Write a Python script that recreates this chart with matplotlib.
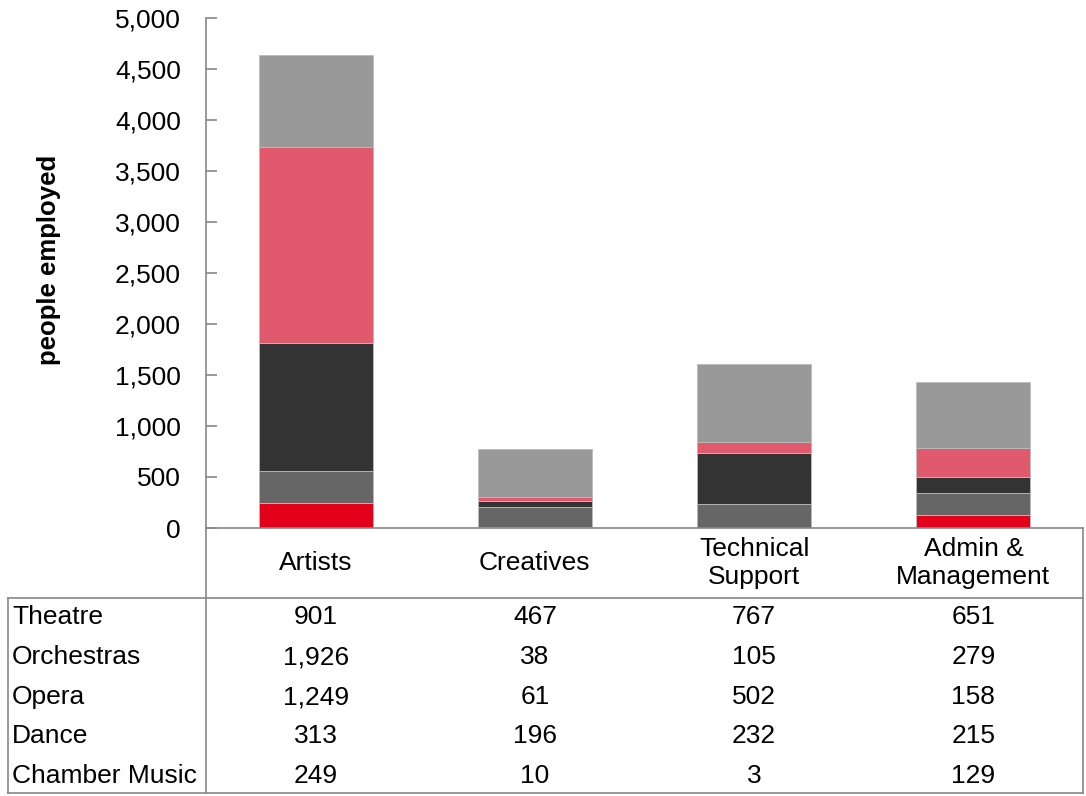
import matplotlib
matplotlib.use("Agg")
import matplotlib.pyplot as plt
import matplotlib.transforms as mtransforms
from matplotlib.lines import Line2D
import numpy as np

plt.rcParams['font.family'] = ['Liberation Sans', 'DejaVu Sans']

categories = ["Artists", "Creatives", "Technical\nSupport", "Admin &\nManagement"]
series_names = ["Theatre", "Orchestras", "Opera", "Dance", "Chamber Music"]
theatre = [901, 467, 767, 651]
orchestras = [1926, 38, 105, 279]
opera = [1249, 61, 502, 158]
dance = [313, 196, 232, 215]
chamber = [249, 10, 3, 129]
yticks = [0, 500, 1000, 1500, 2000, 2500, 3000, 3500, 4000, 4500, 5000]

series = [theatre, orchestras, opera, dance, chamber]
colors = {"Chamber Music": "#E2001A", "Dance": "#666666", "Opera": "#333333",
          "Orchestras": "#E0596D", "Theatre": "#999999"}

FS = 19
W, H = 1086, 796
fig = plt.figure(figsize=(W / 100, H / 100), dpi=100)
ax = fig.add_axes([206 / W, 1 - 528 / H, (1083 - 206) / W, (528 - 18) / H])

x = np.arange(len(categories))
bottom = np.zeros(len(categories))
# stack from bottom: Chamber Music, Dance, Opera, Orchestras, Theatre
for name, vals in reversed(list(zip(series_names, series))):
    ax.bar(x, vals, width=0.52, bottom=bottom, color=colors[name],
           edgecolor="#bbbbbb", linewidth=0.6, zorder=2)
    bottom += np.array(vals)

ax.set_xlim(-0.5, 3.5)
ax.set_ylim(0, 5000)
ax.set_yticks(yticks)
ax.set_yticklabels([f"{t:,}" for t in yticks], fontsize=FS)
ax.tick_params(axis='y', direction='in', length=8, width=1.2, color='#888888', pad=18)
ax.tick_params(axis='x', length=0, labelbottom=False)
for s in ["top", "right"]:
    ax.spines[s].set_visible(False)
ax.spines["left"].set_color("#888888")
ax.spines["left"].set_linewidth(1.2)
ax.spines["bottom"].set_color("#888888")
ax.spines["bottom"].set_linewidth(1.2)
ax.set_ylabel("people employed", fontsize=FS - 0.5, fontweight="bold")
ax.yaxis.set_label_coords(-0.165, 0.525)

# data table
trans = mtransforms.blended_transform_factory(ax.transData, fig.transFigure)
def fy(py):
    return 1 - py / H
def fx(px):
    return px / W

lc = "#888888"
lw = 1.2
lines = [
    ((fx(206), fx(1083)), (fy(598), fy(598))),
    ((fx(8), fx(1083)), (fy(793), fy(793))),
    ((fx(8), fx(206)), (fy(598), fy(598))),
    ((fx(8), fx(8)), (fy(598), fy(793))),
    ((fx(206), fx(206)), (fy(528), fy(793))),
    ((fx(1083), fx(1083)), (fy(528), fy(793))),
]
for xs, ys in lines:
    fig.add_artist(Line2D(xs, ys, color=lc, linewidth=lw, transform=fig.transFigure))

for i, cat in enumerate(categories):
    ax.text(i, fy(563), cat, transform=trans, ha="center", va="center",
            fontsize=FS, linespacing=1.25, clip_on=False)

row_y = [617, 657, 697, 736, 776]
for r, (name, vals) in enumerate(zip(series_names, series)):
    fig.text(fx(12), fy(row_y[r]), name, ha="left", va="center", fontsize=FS)
    for i, v in enumerate(vals):
        ax.text(i, fy(row_y[r]), f"{v:,}", transform=trans, ha="center",
                va="center", fontsize=FS, clip_on=False)

fig.savefig("out.png", dpi=100)
